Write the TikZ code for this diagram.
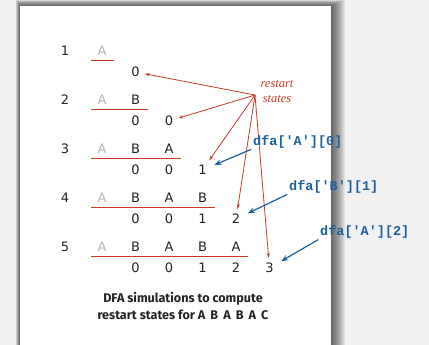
\documentclass[tikz,border=0pt]{standalone}
\usepackage{fontspec}
\setmainfont{DejaVu Sans}
\newfontfamily\capfont{Fira Sans}
\newfontfamily\codefont{Liberation Mono}
\newfontfamily\notefont{Liberation Serif}
\usetikzlibrary{arrows.meta}

\definecolor{desk}{RGB}{241,241,241}
\definecolor{ink}{RGB}{35,35,35}
\definecolor{faded}{RGB}{182,182,182}
\definecolor{restartred}{RGB}{200,58,42}
\definecolor{dfablue}{RGB}{28,96,158}

\tikzset{
  sym/.style={font=\fontsize{13}{15}\selectfont, text=ink, inner sep=3pt},
  oldsym/.style={sym, text=faded},
  rowno/.style={sym},
  num/.style={sym},
  underline/.style={restartred, line width=0.8pt},
  restartarrow/.style={restartred, line width=0.8pt,
    -{Stealth[length=5pt,width=3.2pt]}, shorten >=2pt},
  dfalabel/.style={font=\codefont\bfseries\fontsize{13.5}{15}\selectfont,
    text=dfablue, inner sep=0pt, anchor=west},
  dfaarrow/.style={dfablue, line width=1.2pt,
    -{Stealth[length=7pt,width=5.5pt]}, shorten <=2pt, shorten >=5pt},
}

\begin{document}
\begin{tikzpicture}[x=1pt, y=-1pt]

% ================================================================
%  Fondo y hoja con sombra (coordenadas en px, y hacia abajo)
% ================================================================
\fill[desk] (0,0) rectangle (429,345);
\useasboundingbox (0,0) rectangle (429,345);
\foreach \i in {1,...,14}{
    \fill[black, opacity=0.055] (20-0.3*\i, 6-0.45*\i) rectangle (331+1.0*\i, 360);
}
\fill[white] (20,6) rectangle (331,360);

% ================================================================
%  Filas: simulaciones del DFA sobre A B A B A
%  columna c en x = 102 + 33.5(c-1); fila r en y = 51 + 49(r-1)
% ================================================================
\foreach \r in {1,...,5}{
    \pgfmathsetmacro{\ly}{51+49*(\r-1)}
    \pgfmathsetmacro{\ny}{\ly+21}
    \node[rowno] (row\r) at (65,\ly) {\r};
    % letras del patron (la primera en gris)
    \foreach \c/\ch in {1/A,2/B,3/A,4/B,5/A}{
        \ifnum\c>\r\relax\else
            \ifnum\c=1
                \node[oldsym] (p\r-\c) at ({102+33.5*(\c-1)},\ly) {\ch};
            \else
                \node[sym] (p\r-\c) at ({102+33.5*(\c-1)},\ly) {\ch};
            \fi
        \fi
    }
    % raya bajo las letras
    \draw[underline] (91,\ly+9.5) -- ({114+33.5*(\r-1)},\ly+9.5);
    % estados alcanzados
    \foreach \c/\v in {1/0,2/0,3/1,4/2,5/3}{
        \ifnum\c>\r\relax\else
            \node[num] (n\r-\c) at ({102+33.5*\c},\ny) {\v};
        \fi
    }
}

% Estados de reinicio
\coordinate (hub) at (255,95);
\node[font=\notefont\itshape\fontsize{12.5}{15}\selectfont, text=restartred,
      align=center, inner sep=0pt] (restart) at (277,92) {restart\\states};
\foreach \r in {1,...,5}{
    \draw[restartarrow] (hub) -- (n\r-\r);
}

% Transiciones del DFA
\node[dfalabel] (q1) at (253,142) {dfa['A'][0]};
\node[dfalabel] (q2) at (289,187) {dfa['B'][1]};
\node[dfalabel] (q3) at (320,232) {dfa['A'][2]};
\draw[dfaarrow] (q1.south west) -- (n3-3);
\draw[dfaarrow] (q2.south west) -- (n4-4);
\draw[dfaarrow] (q3.south west) -- (n5-5);

% Pie
\node[font=\capfont\bfseries\fontsize{12.6}{17}\selectfont, text=ink,
      align=center] (caption) at (183,306)
    {DFA simulations to compute\\restart states for A\, B\, A\, B\, A\, C};

\end{tikzpicture}
\end{document}
